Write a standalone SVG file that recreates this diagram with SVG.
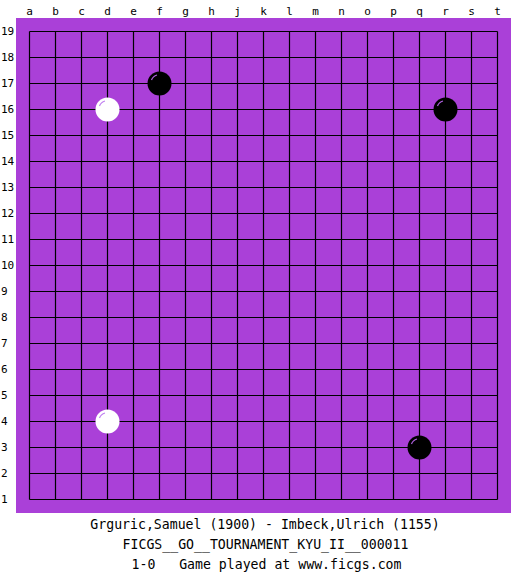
<svg xmlns="http://www.w3.org/2000/svg" width="525" height="575" viewBox="0 0 525 575">
<style>
.lbl{font-family:"DejaVu Sans Mono","Liberation Mono",monospace;font-size:11px;fill:#000}
.cap{font-family:"DejaVu Sans Mono","Liberation Mono",monospace;font-size:13.2px;fill:#000;text-anchor:middle}
.grid line{stroke:#000;stroke-width:1.2}
.b{fill:#000}
.w{fill:#fff}
.hb{fill:none;stroke:#b060e0;stroke-width:1.2}
.hw{fill:none;stroke:#c080f0;stroke-width:1.2}
</style>
<rect width="525" height="575" fill="#fff"/>
<rect id="board" x="16" y="18" width="495" height="495" fill="#AA40D8"/>
<g id="grid" class="grid">
<line x1="29.5" y1="31.5" x2="497.5" y2="31.5"/>
<line x1="29.5" y1="57.5" x2="497.5" y2="57.5"/>
<line x1="29.5" y1="83.5" x2="497.5" y2="83.5"/>
<line x1="29.5" y1="109.5" x2="497.5" y2="109.5"/>
<line x1="29.5" y1="135.5" x2="497.5" y2="135.5"/>
<line x1="29.5" y1="161.5" x2="497.5" y2="161.5"/>
<line x1="29.5" y1="187.5" x2="497.5" y2="187.5"/>
<line x1="29.5" y1="213.5" x2="497.5" y2="213.5"/>
<line x1="29.5" y1="239.5" x2="497.5" y2="239.5"/>
<line x1="29.5" y1="265.5" x2="497.5" y2="265.5"/>
<line x1="29.5" y1="291.5" x2="497.5" y2="291.5"/>
<line x1="29.5" y1="317.5" x2="497.5" y2="317.5"/>
<line x1="29.5" y1="343.5" x2="497.5" y2="343.5"/>
<line x1="29.5" y1="369.5" x2="497.5" y2="369.5"/>
<line x1="29.5" y1="395.5" x2="497.5" y2="395.5"/>
<line x1="29.5" y1="421.5" x2="497.5" y2="421.5"/>
<line x1="29.5" y1="447.5" x2="497.5" y2="447.5"/>
<line x1="29.5" y1="473.5" x2="497.5" y2="473.5"/>
<line x1="29.5" y1="499.5" x2="497.5" y2="499.5"/>
<line x1="29.5" y1="31.5" x2="29.5" y2="499.5"/>
<line x1="55.5" y1="31.5" x2="55.5" y2="499.5"/>
<line x1="81.5" y1="31.5" x2="81.5" y2="499.5"/>
<line x1="107.5" y1="31.5" x2="107.5" y2="499.5"/>
<line x1="133.5" y1="31.5" x2="133.5" y2="499.5"/>
<line x1="159.5" y1="31.5" x2="159.5" y2="499.5"/>
<line x1="185.5" y1="31.5" x2="185.5" y2="499.5"/>
<line x1="211.5" y1="31.5" x2="211.5" y2="499.5"/>
<line x1="237.5" y1="31.5" x2="237.5" y2="499.5"/>
<line x1="263.5" y1="31.5" x2="263.5" y2="499.5"/>
<line x1="289.5" y1="31.5" x2="289.5" y2="499.5"/>
<line x1="315.5" y1="31.5" x2="315.5" y2="499.5"/>
<line x1="341.5" y1="31.5" x2="341.5" y2="499.5"/>
<line x1="367.5" y1="31.5" x2="367.5" y2="499.5"/>
<line x1="393.5" y1="31.5" x2="393.5" y2="499.5"/>
<line x1="419.5" y1="31.5" x2="419.5" y2="499.5"/>
<line x1="445.5" y1="31.5" x2="445.5" y2="499.5"/>
<line x1="471.5" y1="31.5" x2="471.5" y2="499.5"/>
<line x1="497.5" y1="31.5" x2="497.5" y2="499.5"/>
</g>
<g id="col-labels" class="lbl" text-anchor="middle">
<text x="29.5" y="15">a</text><text x="55.5" y="15">b</text><text x="81.5" y="15">c</text><text x="107.5" y="15">d</text><text x="133.5" y="15">e</text><text x="159.5" y="15">f</text><text x="185.5" y="15">g</text><text x="211.5" y="15">h</text><text x="237.5" y="15">j</text><text x="263.5" y="15">k</text><text x="289.5" y="15">l</text><text x="315.5" y="15">m</text><text x="341.5" y="15">n</text><text x="367.5" y="15">o</text><text x="393.5" y="15">p</text><text x="419.5" y="15">q</text><text x="445.5" y="15">r</text><text x="471.5" y="15">s</text><text x="497.5" y="15">t</text>
</g>
<g id="row-labels" class="lbl">
<text x="1" y="35">19</text><text x="1" y="61">18</text><text x="1" y="87">17</text><text x="1" y="113">16</text><text x="1" y="139">15</text><text x="1" y="165">14</text><text x="1" y="191">13</text><text x="1" y="217">12</text><text x="1" y="243">11</text><text x="1" y="269">10</text><text x="1" y="295">9</text><text x="1" y="321">8</text><text x="1" y="347">7</text><text x="1" y="373">6</text><text x="1" y="399">5</text><text x="1" y="425">4</text><text x="1" y="451">3</text><text x="1" y="477">2</text><text x="1" y="503">1</text>
</g>
<g id="stone-f17"><circle class="b" cx="159.5" cy="83.5" r="12"/><path class="hb" d="M151.5 80 A8 8 0 0 1 157 75"/></g>
<g id="stone-d16"><circle class="w" cx="107.5" cy="109.5" r="12"/><path class="hw" d="M99.5 106 A8 8 0 0 1 105 101"/></g>
<g id="stone-r16"><circle class="b" cx="445.5" cy="109.5" r="12"/><path class="hb" d="M437.5 106 A8 8 0 0 1 443 101"/></g>
<g id="stone-d4"><circle class="w" cx="107.5" cy="421.5" r="12"/><path class="hw" d="M99.5 418 A8 8 0 0 1 105 413"/></g>
<g id="stone-q3"><circle class="b" cx="419.5" cy="447.5" r="12"/><path class="hb" d="M411.5 444 A8 8 0 0 1 417 439"/></g>
<g id="caption">
<text class="cap" x="265" y="529">Grguric,Samuel (1900) - Imbeck,Ulrich (1155)</text>
<text class="cap" x="265.5" y="549">FICGS__GO__TOURNAMENT_KYU_II__000011</text>
<text class="cap" x="266.5" y="569" xml:space="preserve">1-0   Game played at www.ficgs.com</text>
</g>
</svg>
